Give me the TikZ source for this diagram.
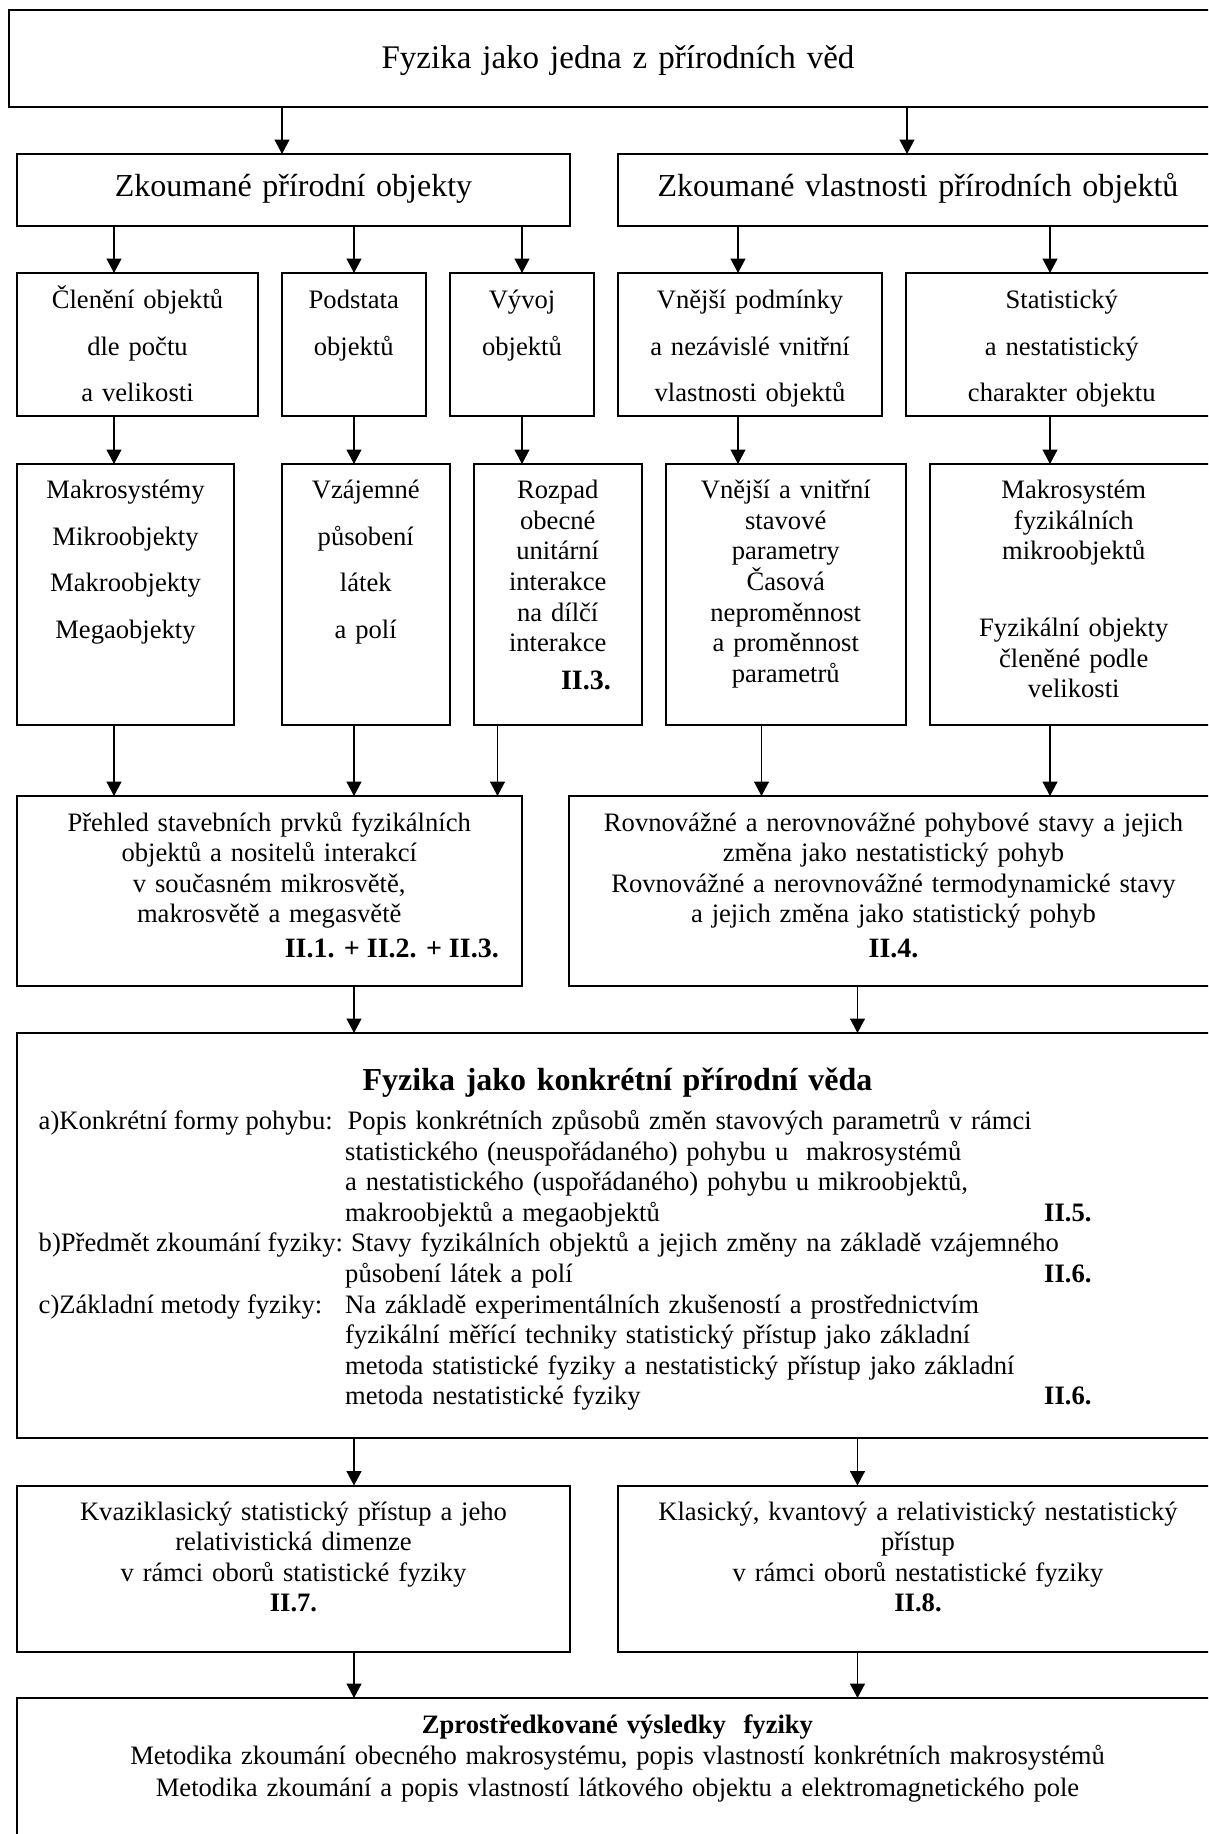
\documentclass[tikz,border=0pt]{standalone}
\usepackage{fontspec}
\setmainfont{Liberation Serif}
\usetikzlibrary{arrows.meta}

\tikzset{
  box/.style={draw, line width=2pt, inner sep=0pt, outer sep=0pt, anchor=north west},
  arr/.style={draw, line width=1.4pt, -{Triangle[length=14.5pt,width=15pt]}},
  ctext/.style={align=center, text width=#1, inner sep=0pt, anchor=base},
  ctext/.default=620pt,
  ltext/.style={align=left, text width=760pt, inner sep=0pt, anchor=base west},
  plain/.style={inner sep=0pt, anchor=base west},
  big/.style={font=\fontsize{32}{38}\selectfont},
  body/.style={font=\fontsize{26.6}{30.6}\selectfont},
  wide/.style={font=\fontsize{26.6}{46.5}\selectfont},
}
\newcommand{\refmark}[1]{{\fontsize{28}{30.6}\selectfont\bfseries #1}}

\begin{document}
\begin{tikzpicture}[x=1pt,y=-1pt]
\useasboundingbox (0,0) rectangle (1208,1834);
\clip (0,0) rectangle (1208,1834);

% ---- level 1
\node[box, minimum width=1218pt, minimum height=96.5pt] (top) at (9,10) {};
\node[ctext, font=\fontsize{33}{40}\selectfont] (topt) at (618,68) {Fyzika jako jedna z přírodních věd};

% ---- level 2
\node[box, minimum width=553pt, minimum height=71.5pt] (zpo) at (17,154) {};
\node[box, minimum width=600pt, minimum height=71.5pt] (zvl) at (618,154) {};
\node[ctext, big] (zpot) at (293.5,196) {Zkoumané přírodní objekty};
\node[ctext, big] (zvlt) at (918,196) {Zkoumané vlastnosti přírodních objektů};

% ---- level 3
\node[box, minimum width=241pt,   minimum height=143pt] (a3) at (17,273) {};
\node[box, minimum width=144.5pt, minimum height=143pt] (b3) at (281.5,273) {};
\node[box, minimum width=144pt,   minimum height=143pt] (c3) at (450,273) {};
\node[box, minimum width=264pt,   minimum height=143pt] (d3) at (618,273) {};
\node[box, minimum width=312.5pt, minimum height=143pt] (e3) at (905.5,273) {};
\node[ctext=300pt, wide] (a3t) at (137.5,308.5) {Členění objektů\\dle počtu\\a velikosti};
\node[ctext=300pt, wide] (b3t) at (353.75,308.5) {Podstata\\objektů};
\node[ctext=300pt, wide] (c3t) at (522,308.5) {Vývoj\\objektů};
\node[ctext=300pt, wide] (d3t) at (750,308.5) {Vnější podmínky\\a nezávislé vnitřní\\vlastnosti objektů};
\node[ctext=300pt, wide] (e3t) at (1061.75,308.5) {Statistický\\a nestatistický\\charakter objektu};

% ---- level 4
\node[box, minimum width=217pt,   minimum height=261pt] (a4) at (17,464) {};
\node[box, minimum width=168.5pt, minimum height=261pt] (b4) at (281.5,464) {};
\node[box, minimum width=167.5pt, minimum height=261pt] (c4) at (474,464) {};
\node[box, minimum width=239.5pt, minimum height=261pt] (d4) at (666,464) {};
\node[box, minimum width=288.5pt, minimum height=261pt] (e4) at (929.5,464) {};
\node[ctext=300pt, wide] (a4t) at (125.5,498.6) {Makrosystémy\\Mikroobjekty\\Makroobjekty\\Megaobjekty};
\node[ctext=300pt, wide] (b4t) at (365.75,498.6) {Vzájemné\\působení\\látek\\a polí};
\node[ctext=300pt, body] (c4t) at (557.75,498.6) {Rozpad\\obecné\\unitární\\interakce\\na dílčí\\interakce};
\node[plain, anchor=base east, body] (c4r) at (611,689.6) {\refmark{II.3.}};
\node[ctext=300pt, body] (d4t) at (785.75,498.6) {Vnější a vnitřní\\stavové\\parametry\\Časová\\neproměnnost\\a proměnnost\\parametrů};
\node[ctext=300pt, body] (e4t) at (1073.75,498.6) {Makrosystém\\fyzikálních\\mikroobjektů\\[46pt]Fyzikální objekty\\členěné podle\\velikosti};

% ---- level 5
\node[box, minimum width=504.5pt, minimum height=190pt] (l5) at (17,796) {};
\node[box, minimum width=649pt,   minimum height=190pt] (r5) at (569,796) {};
\node[ctext, body] (l5t) at (269.25,831) {Přehled stavebních prvků fyzikálních\\objektů a nositelů interakcí\\v současném mikrosvětě,\\makrosvětě a megasvětě};
\node[plain, anchor=base east, body] (l5r) at (499,957) {\refmark{II.1. + II.2. + II.3.}};
\node[ctext, body] (r5t) at (893.5,831) {Rovnovážné a nerovnovážné pohybové stavy a jejich\\změna jako nestatistický pohyb\\Rovnovážné a nerovnovážné termodynamické stavy\\a jejich změna jako statistický pohyb\\[3.6pt]\refmark{II.4.}};

% ---- level 6
\node[box, minimum width=1201pt, minimum height=404.5pt] (m6) at (17,1033) {};
\node[ctext=1100pt, font=\fontsize{32}{38}\selectfont\bfseries] (m6t) at (617.5,1090) {Fyzika jako konkrétní přírodní věda};
\node[plain, body] (m6la) at (38.5,1129.5) {a)Konkrétní formy pohybu:};
\node[ltext, body] (m6ba) at (345,1129.5) {\hspace*{2.5pt}Popis konkrétních způsobů změn stavových parametrů v~rámci\\statistického (neuspořádaného) pohybu u\ \ makrosystémů\\a nestatistického (uspořádaného) pohybu u mikroobjektů,\\makroobjektů a megaobjektů};
\node[plain, body] (m6ra) at (1044,1221.3) {\textbf{II.5.}};
\node[plain, body] (m6lb) at (38.5,1251.9) {b)Předmět zkoumání fyziky:};
\node[ltext, body] (m6bb) at (345,1251.9) {\hspace*{6pt}Stavy fyzikálních objektů a jejich změny na základě vzájemného\\působení látek a polí};
\node[plain, body] (m6rb) at (1044,1282.5) {\textbf{II.6.}};
\node[plain, body] (m6lc) at (38.5,1313.1) {c)Základní metody fyziky:};
\node[ltext, body] (m6bc) at (345,1313.1) {Na základě experimentálních zkušeností a prostřednictvím\\fyzikální měřící techniky statistický přístup jako základní\\metoda statistické fyziky a nestatistický přístup jako základní\\metoda nestatistické fyziky};
\node[plain, body] (m6rc) at (1044,1404.9) {\textbf{II.6.}};

% ---- level 7
\node[box, minimum width=553pt, minimum height=166.5pt] (l7) at (17,1485.5) {};
\node[box, minimum width=600pt, minimum height=166.5pt] (r7) at (618,1485.5) {};
\node[ctext, body] (l7t) at (293.5,1520) {Kvaziklasický statistický přístup a jeho\\relativistická dimenze\\v rámci oborů statistické fyziky\\\textbf{II.7.}};
\node[ctext, body] (r7t) at (918,1520) {Klasický, kvantový a relativistický nestatistický\\přístup\\v rámci oborů nestatistické fyziky\\\textbf{II.8.}};

% ---- level 8
\node[box, minimum width=1201pt, minimum height=220pt] (b8) at (17,1698) {};
\node[ctext=1150pt, font=\fontsize{26.6}{31.5}\selectfont] (b8t) at (617.5,1733) {\textbf{Zprostředkované výsledky\ \ fyziky}\\Metodika zkoumání obecného makrosystému, popis vlastností konkrétních makrosystémů\\Metodika zkoumání a popis vlastností látkového objektu a elektromagnetického pole};

% ---- connectors
\draw[arr] (top.south -| 282,0) -- (zpo.north -| 282,0);
\draw[arr] (top.south -| 907,0) -- (zvl.north -| 907,0);

\draw[arr] (zpo.south -| 114,0) -- (a3.north -| 114,0);
\draw[arr] (zpo.south -| 354,0) -- (b3.north -| 354,0);
\draw[arr] (zpo.south -| 522,0) -- (c3.north -| 522,0);
\draw[arr] (zvl.south -| 738,0) -- (d3.north -| 738,0);
\draw[arr] (zvl.south -| 1050,0) -- (e3.north -| 1050,0);

\draw[arr] (a3.south -| 114,0) -- (a4.north -| 114,0);
\draw[arr] (b3.south -| 354,0) -- (b4.north -| 354,0);
\draw[arr] (c3.south -| 522,0) -- (c4.north -| 522,0);
\draw[arr] (d3.south -| 738,0) -- (d4.north -| 738,0);
\draw[arr] (e3.south -| 1050,0) -- (e4.north -| 1050,0);

\draw[arr] (a4.south -| 114,0) -- (l5.north -| 114,0);
\draw[arr] (b4.south -| 354,0) -- (l5.north -| 354,0);
\draw[arr] (c4.south -| 497.5,0) -- (l5.north -| 497.5,0);
\draw[arr] (d4.south -| 761.5,0) -- (r5.north -| 761.5,0);
\draw[arr] (e4.south -| 1050,0) -- (r5.north -| 1050,0);

\draw[arr] (l5.south -| 354,0) -- (m6.north -| 354,0);
\draw[arr] (r5.south -| 857.5,0) -- (m6.north -| 857.5,0);

\draw[arr] (m6.south -| 354,0) -- (l7.north -| 354,0);
\draw[arr] (m6.south -| 857.5,0) -- (r7.north -| 857.5,0);

\draw[arr] (l7.south -| 354,0) -- (b8.north -| 354,0);
\draw[arr] (r7.south -| 857.5,0) -- (b8.north -| 857.5,0);
\end{tikzpicture}
\end{document}
